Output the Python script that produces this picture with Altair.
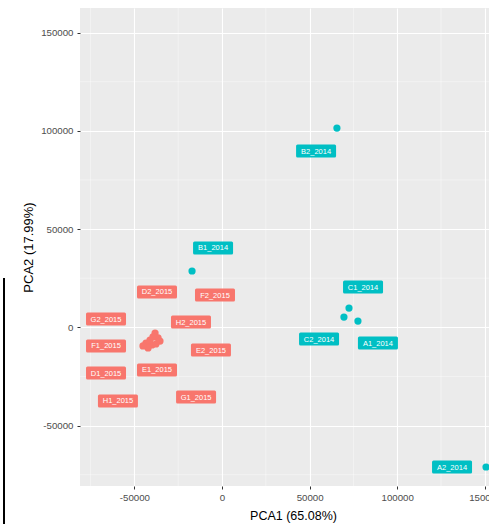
import altair as alt
import pandas as pd

# ---- data ----
samples = ["A1_2014", "A2_2014", "B1_2014", "B2_2014", "C1_2014", "C2_2014",
           "D1_2015", "D2_2015", "E1_2015", "E2_2015", "F1_2015", "F2_2015",
           "G1_2015", "G2_2015", "H1_2015", "H2_2015"]
year = ["2014"] * 6 + ["2015"] * 10
pca1 = [77600, 150700, -17100, 65600, 72500, 69600,
        -43400, -38200, -40000, -36500, -41100, -35400,
        -42200, -45100, -39400, -37700]
pca2 = [3200, -71100, 28650, 101400, 9800, 5200,
        -8000, -2900, -9000, -5400, -6500, -7000,
        -10500, -9500, -4900, -8500]
label_x = [89000, 131300, -5100, 53700, 80500, 55400,
           -66200, -37100, -37100, -6300, -66200, -4000,
           -14800, -66200, -59400, -17700]
label_y = [-8000, -71100, 40400, 89700, 20500, -6000,
           -23300, 18000, -21700, -11600, -9500, 16400,
           -35500, 4200, -37500, 2700]

x_ticks = [-50000, 0, 50000, 100000, 150000]
y_ticks = [-50000, 0, 50000, 100000, 150000]
x_minor = [-75000, -25000, 25000, 75000, 125000]
y_minor = [-75000, -25000, 25000, 75000, 125000]

x_domain = [-81050, 152400]
y_domain = [-80760, 162500]

df = pd.DataFrame({"sample": samples, "year": year, "pca1": pca1, "pca2": pca2,
                   "lx": label_x, "ly": label_y})

color_scale = alt.Scale(domain=["2014", "2015"], range=["#00BFC4", "#F8766D"])
xs = alt.Scale(domain=x_domain, nice=False, zero=False)
ys = alt.Scale(domain=y_domain, nice=False, zero=False)

FONT = "Liberation Sans"

x_axis = alt.Axis(values=x_ticks, labelExpr="'' + datum.value", title="PCA1 (65.08%)",
                  grid=True, gridColor="white", gridWidth=1.1, domain=False,
                  tickColor="#333333", tickSize=3, tickWidth=1, labelPadding=3,
                  labelColor="#4D4D4D", labelFontSize=9.7, labelFont=FONT,
                  titleFont=FONT, titleFontSize=12.5, titleFontWeight="normal",
                  titleColor="black", titleX=213, titleY=29, titleBaseline="middle")
y_axis = alt.Axis(values=y_ticks, labelExpr="'' + datum.value", title="PCA2 (17.99%)",
                  grid=True, gridColor="white", gridWidth=1.1, domain=False,
                  tickColor="#333333", tickSize=3, tickWidth=1, labelPadding=4,
                  labelColor="#4D4D4D", labelFontSize=9.7, labelFont=FONT,
                  titleFont=FONT, titleFontSize=13, titleFontWeight="normal",
                  titleColor="black", titleX=-52, titleY=239, titleBaseline="middle",
                  titleAngle=270)

base = alt.Chart(df)

points = base.mark_circle(size=52, opacity=1).encode(
    x=alt.X("pca1:Q", scale=xs, axis=x_axis),
    y=alt.Y("pca2:Q", scale=ys, axis=y_axis),
    color=alt.Color("year:N", scale=color_scale, legend=None),
)

minor_x = alt.Chart(pd.DataFrame({"v": x_minor})).mark_rule(
    color="white", strokeWidth=0.5, opacity=0.8).encode(
    x=alt.X("v:Q", scale=xs, axis=x_axis))
minor_y = alt.Chart(pd.DataFrame({"v": y_minor})).mark_rule(
    color="white", strokeWidth=0.5, opacity=0.8).encode(
    y=alt.Y("v:Q", scale=ys, axis=y_axis))

box_path = ("M-0.925,-0.325H0.925Q1,-0.325 1,-0.25V0.25Q1,0.325 0.925,0.325"
            "H-0.925Q-1,0.325 -1,0.25V-0.25Q-1,-0.325 -0.925,-0.325Z")
boxes = base.mark_point(shape=box_path, filled=True, size=1600, opacity=1,
                        strokeWidth=0).encode(
    x=alt.X("lx:Q", scale=xs, axis=x_axis),
    y=alt.Y("ly:Q", scale=ys, axis=y_axis),
    color=alt.Color("year:N", scale=color_scale, legend=None),
)
texts = base.mark_text(color="white", fontSize=7.5, font=FONT, align="center",
                       baseline="middle", dy=0.5).encode(
    x=alt.X("lx:Q", scale=xs, axis=x_axis),
    y=alt.Y("ly:Q", scale=ys, axis=y_axis),
    text="sample:N",
)

edge = alt.Chart(alt.Data(values=[{"a": 1}])).mark_rule(
    color="black", strokeWidth=2).encode(
    x=alt.value(-76), y=alt.value(270), y2=alt.value(516))

chart = alt.layer(points, minor_x, minor_y, boxes, texts, edge).properties(
    width=409, height=478,
    autosize=alt.AutoSizeParams(type="none"),
    padding={"left": 80, "top": 8, "right": 0, "bottom": 40},
    background="white",
).configure_view(fill="#EBEBEB", stroke=None)

chart.save("out.html", embed_options={"renderer": "svg", "actions": False})
